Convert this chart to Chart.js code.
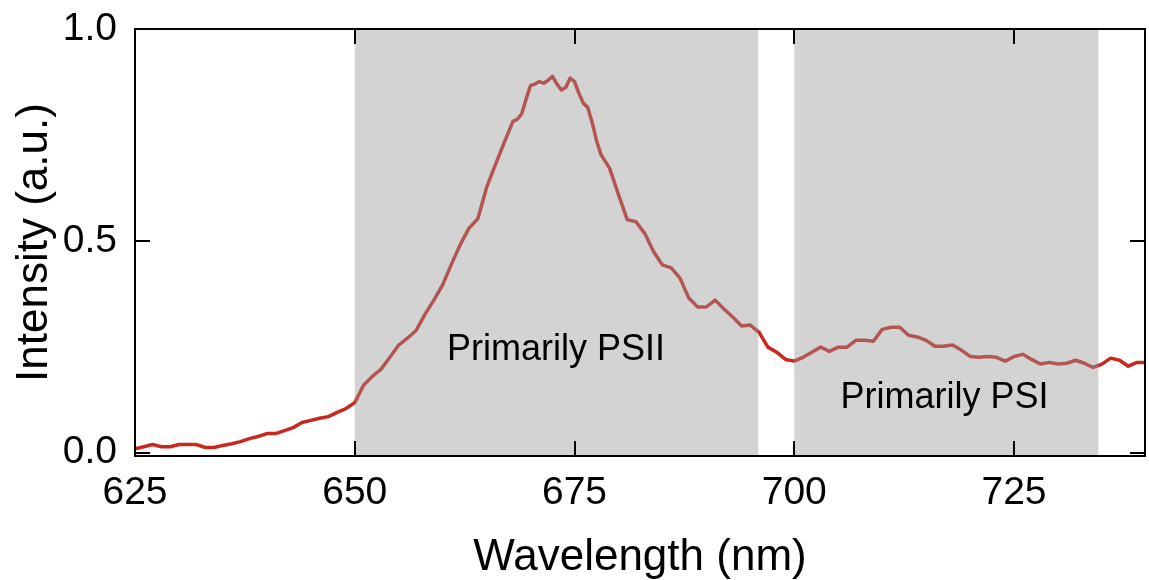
<!DOCTYPE html>
<html>
<head>
<meta charset="utf-8">
<script src="https://cdn.jsdelivr.net/npm/chart.js@4"></script>
<style>
  html, body { margin: 0; padding: 0; background: #fff; }
</style>
</head>
<body>
<canvas id="spectrum" width="1149" height="580"></canvas>
<script>
// emission spectrum
const wavelength = [
  625, 626, 627, 628, 629, 630, 631, 632, 633, 634, 635, 636, 637, 638, 639,
  640, 641, 642, 643, 644, 645, 646, 647, 648, 649, 650, 651, 652, 653, 654,
  655, 656, 657, 658, 659, 660, 661, 662, 663, 664, 665, 666, 667, 668, 668.5,
  669, 669.5, 670, 670.5, 671, 671.5, 672, 672.5, 673, 673.5, 674, 674.5, 675,
  675.5, 676, 676.5, 677, 677.5, 678, 679, 680, 681, 682, 683, 684, 685, 686,
  687, 688, 689, 690, 691, 692, 693, 694, 695, 696, 697, 698, 699, 700, 701,
  702, 703, 704, 705, 706, 707, 708, 709, 710, 711, 712, 713, 714, 715, 716,
  717, 718, 719, 720, 721, 722, 723, 724, 725, 726, 727, 728, 729, 730, 731,
  732, 733, 734, 735, 736, 737, 738, 739, 740
];
const intensity = [
  0.009, 0.014, 0.019, 0.014, 0.014, 0.019, 0.019, 0.019, 0.012, 0.012, 0.017, 0.021, 0.026, 0.033, 0.038,
  0.045, 0.045, 0.052, 0.059, 0.071, 0.076, 0.081, 0.085, 0.095, 0.104, 0.118, 0.159, 0.180, 0.197, 0.225,
  0.254, 0.270, 0.289, 0.327, 0.360, 0.396, 0.445, 0.491, 0.530, 0.552, 0.626, 0.680, 0.732, 0.782, 0.787,
  0.800, 0.835, 0.867, 0.870, 0.876, 0.872, 0.879, 0.888, 0.870, 0.856, 0.862, 0.884, 0.876,
  0.848, 0.825, 0.815, 0.780, 0.737, 0.704, 0.671, 0.609, 0.550, 0.545, 0.517, 0.474, 0.443, 0.436,
  0.412, 0.365, 0.344, 0.344, 0.360, 0.339, 0.320, 0.299, 0.301, 0.284, 0.249, 0.237, 0.220, 0.216, 0.225,
  0.237, 0.249, 0.239, 0.249, 0.249, 0.265, 0.265, 0.263, 0.291, 0.296, 0.296, 0.277, 0.273, 0.265, 0.251,
  0.251, 0.254, 0.242, 0.227, 0.225, 0.227, 0.225, 0.216, 0.227, 0.232, 0.220, 0.209, 0.213, 0.209, 0.211,
  0.218, 0.211, 0.201, 0.209, 0.223, 0.218, 0.204, 0.213, 0.213
];

const xTicks = [625, 650, 675, 700, 725];
const yTicks = [0, 0.5, 1.0];

// shaded bands
const bandStart = [650, 700];
const bandEnd = [695.9, 734.6];
const bandLabels = ['Primarily PSII', 'Primarily PSI'];

const FONT = '"Liberation Sans", Arial, Helvetica, sans-serif';

const labelPos = [[672.9, 0.242], [717.1, 0.128]];

const frameTicks = {
  id: 'frameTicks',
  afterDatasetsDraw(chart) {
    const { ctx, chartArea: a, scales: { x, y } } = chart;
    ctx.save();
    ctx.fillStyle = 'rgba(150,150,150,0.42)';
    bandStart.forEach((s, i) => {
      const x0 = x.getPixelForValue(s);
      const x1 = x.getPixelForValue(bandEnd[i]);
      ctx.fillRect(x0, a.top, x1 - x0, a.bottom - a.top);
    });
    ctx.fillStyle = '#000';
    ctx.font = '36px ' + FONT;
    ctx.textAlign = 'center';
    ctx.textBaseline = 'middle';
    bandLabels.forEach((t, i) => {
      ctx.fillText(t, x.getPixelForValue(labelPos[i][0]), y.getPixelForValue(labelPos[i][1]));
    });
    ctx.restore();
  },
  afterDraw(chart) {
    const { ctx, chartArea: a, scales: { x, y } } = chart;
    const len = 15;
    ctx.save();
    ctx.strokeStyle = '#000';
    ctx.lineWidth = 2;
    ctx.strokeRect(a.left, a.top, a.right - a.left, a.bottom - a.top);
    ctx.beginPath();
    xTicks.forEach(v => {
      const px = Math.round(x.getPixelForValue(v));
      ctx.moveTo(px, a.bottom); ctx.lineTo(px, a.bottom - len);
      ctx.moveTo(px, a.top); ctx.lineTo(px, a.top + len);
    });
    yTicks.forEach(v => {
      const py = Math.round(y.getPixelForValue(v));
      ctx.moveTo(a.left, py); ctx.lineTo(a.left + len, py);
      ctx.moveTo(a.right, py); ctx.lineTo(a.right - len, py);
    });
    ctx.stroke();
    ctx.restore();
  }
};

new Chart(document.getElementById('spectrum'), {
  type: 'scatter',
  data: {
    datasets: [{
      data: wavelength.map((w, i) => ({ x: w, y: intensity[i] })),
      showLine: true,
      borderColor: '#c8291f',
      borderWidth: 3.5,
      pointRadius: 0,
      tension: 0,
      borderJoinStyle: 'round'
    }]
  },
  options: {
    responsive: false,
    animation: false,
    devicePixelRatio: 1,
    layout: { padding: { top: 29, right: 4, left: 0, bottom: 0 } },
    plugins: { legend: { display: false }, tooltip: { enabled: false } },
    scales: {
      x: {
        type: 'linear',
        min: 625,
        max: 739.9,
        afterBuildTicks: s => { s.ticks = xTicks.map(v => ({ value: v })); },
        afterFit: s => { s.height = 124; s.paddingLeft = 0; s.paddingRight = 0; },
        grid: { display: false, drawTicks: false },
        border: { display: false },
        ticks: { color: '#000', font: { family: FONT, size: 39 }, padding: 14, maxRotation: 0 },
        title: { display: true, text: 'Wavelength (nm)', color: '#000', font: { family: FONT, size: 44, lineHeight: 1.0 }, padding: 0 }
      },
      y: {
        min: -0.008,
        max: 1.0,
        afterBuildTicks: s => { s.ticks = yTicks.map(v => ({ value: v })); },
        afterFit: s => { s.width = 135; s.paddingTop = 0; s.paddingBottom = 0; },
        grid: { display: false, drawTicks: false },
        border: { display: false },
        ticks: { color: '#000', font: { family: FONT, size: 39 }, padding: 18, callback: v => v.toFixed(1) },
        title: { display: true, text: 'Intensity (a.u.)', color: '#000', font: { family: FONT, size: 44 }, padding: { top: 8, bottom: 0 } }
      }
    }
  },
  plugins: [frameTicks]
});
</script>
</body>
</html>
